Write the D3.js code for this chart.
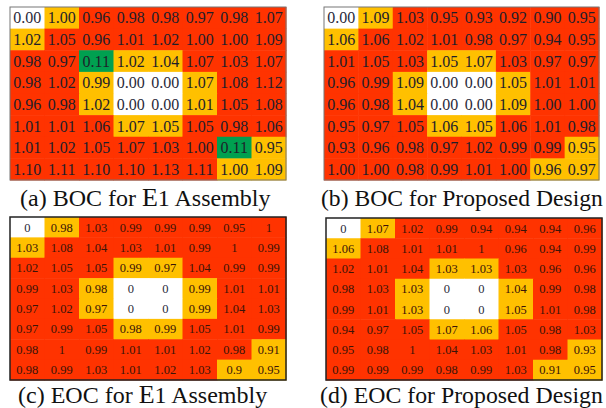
<!DOCTYPE html>
<html>
<head>
<meta charset="utf-8">
<script src="https://cdn.jsdelivr.net/npm/d3@7"></script>
<style>
  html, body { margin: 0; padding: 0; background: #fff; font-family: "Liberation Serif", serif; }
  svg { display: block; }
</style>
</head>
<body>
<svg id="chart" width="606" height="408"></svg>
<script>
// Normalised assembly power per core position (8x8 quarter core)
const bocE1 = [
  [0.00, 1.00, 0.96, 0.98, 0.98, 0.97, 0.98, 1.07],
  [1.02, 1.05, 0.96, 1.01, 1.02, 1.00, 1.00, 1.09],
  [0.98, 0.97, 0.11, 1.02, 1.04, 1.07, 1.03, 1.07],
  [0.98, 1.02, 0.99, 0.00, 0.00, 1.07, 1.08, 1.12],
  [0.96, 0.98, 1.02, 0.00, 0.00, 1.01, 1.05, 1.08],
  [1.01, 1.01, 1.06, 1.07, 1.05, 1.05, 0.98, 1.06],
  [1.01, 1.02, 1.05, 1.07, 1.03, 1.00, 0.11, 0.95],
  [1.10, 1.11, 1.10, 1.10, 1.13, 1.11, 1.00, 1.09]
];
const bocProposed = [
  [0.00, 1.09, 1.03, 0.95, 0.93, 0.92, 0.90, 0.95],
  [1.06, 1.06, 1.02, 1.01, 0.98, 0.97, 0.94, 0.95],
  [1.01, 1.05, 1.03, 1.05, 1.07, 1.03, 0.97, 0.97],
  [0.96, 0.99, 1.09, 0.00, 0.00, 1.05, 1.01, 1.01],
  [0.96, 0.98, 1.04, 0.00, 0.00, 1.09, 1.00, 1.00],
  [0.95, 0.97, 1.05, 1.06, 1.05, 1.06, 1.01, 0.98],
  [0.93, 0.96, 0.98, 0.97, 1.02, 0.99, 0.99, 0.95],
  [1.00, 1.00, 0.98, 0.99, 1.01, 1.00, 0.96, 0.97]
];
const eocE1 = [
  [0, 0.98, 1.03, 0.99, 0.99, 0.99, 0.95, 1],
  [1.03, 1.08, 1.04, 1.03, 1.01, 0.99, 1, 0.99],
  [1.02, 1.05, 1.05, 0.99, 0.97, 1.04, 0.99, 0.99],
  [0.99, 1.03, 0.98, 0, 0, 0.99, 1.01, 1.01],
  [0.97, 1.02, 0.97, 0, 0, 0.99, 1.04, 1.03],
  [0.97, 0.99, 1.05, 0.98, 0.99, 1.05, 1.01, 0.99],
  [0.98, 1, 0.99, 1.01, 1.01, 1.02, 0.98, 0.91],
  [0.98, 0.99, 1.03, 1.01, 1.02, 1.03, 0.9, 0.95]
];
const eocProposed = [
  [0, 1.07, 1.02, 0.99, 0.94, 0.94, 0.94, 0.96],
  [1.06, 1.08, 1.01, 1.01, 1, 0.96, 0.94, 0.99],
  [1.02, 1.01, 1.04, 1.03, 1.03, 1.03, 0.96, 0.96],
  [0.98, 1.03, 1.03, 0, 0, 1.04, 0.99, 0.98],
  [0.99, 1.01, 1.03, 0, 0, 1.05, 1.01, 0.98],
  [0.94, 0.97, 1.05, 1.07, 1.06, 1.05, 0.98, 1.03],
  [0.95, 0.98, 1, 1.04, 1.03, 1.01, 0.98, 0.93],
  [0.99, 0.99, 0.99, 0.98, 0.99, 1.03, 0.91, 0.95]
];

// Cell class per position: W = water hole, G = gold class, R = standard, N = low-power outlier
const classesBocE1 = ["WGRRRRRR", "GRRRRRRR", "RRNGGRRR", "RRGWWGRR", "RRGWWGRR", "RRRGGRRR", "RRRRRRNG", "RRRRRRGG"];
const classesDefault = ["WGRRRRRR", "GRRRRRRR", "RRRGGRRR", "RRGWWGRR", "RRGWWGRR", "RRRGGRRR", "RRRRRRRG", "RRRRRRGG"];

const classKeys = ["W", "G", "R", "N"];
const classColors = ["#ffffff", "#ffc000", "#ff3300", "#00a050"];

const captions = [
  ["(a) BOC for ", "E", "1 Assembly"],
  ["(b) BOC for Proposed Design", "", ""],
  ["(c) EOC for ", "E", "1 Assembly"],
  ["(d) EOC for Proposed Design", "", ""]
];

const serif = "Liberation Serif";
const color = d3.scaleOrdinal().domain(classKeys).range(classColors);
const svg = d3.select("#chart");
const idx = d3.range(8);

const panels = [
  { data: bocE1, classes: classesBocE1, box: [10, 7, 286, 180], fmt: d3.format(".2f"), fs: 16, txt: "#1e1e2a", stroke: "#777", sw: 1,
    cap: captions[0], capX: 20, capY: 206, capFs: 24 },
  { data: bocProposed, classes: classesDefault, box: [324, 7, 599, 180], fmt: d3.format(".2f"), fs: 16, txt: "#1e1e2a", stroke: "#777", sw: 1,
    cap: captions[1], capX: 321, capY: 206, capFs: 23.6 },
  { data: eocE1, classes: classesDefault, box: [10, 217, 286, 380], fmt: v => String(v), fs: 12.5, txt: "#3a1408", stroke: "#222", sw: 1.5,
    cap: captions[2], capX: 18, capY: 402.5, capFs: 24 },
  { data: eocProposed, classes: classesDefault, box: [326, 218, 602, 380], fmt: v => String(v), fs: 12.5, txt: "#3a1408", stroke: "#222", sw: 1.5,
    cap: captions[3], capX: 320, capY: 402.5, capFs: 23.8 }
];

panels.forEach(p => {
  const [x0, y0, x1, y1] = p.box;
  const x = d3.scaleBand().domain(idx).range([x0, x1]);
  const y = d3.scaleBand().domain(idx).range([y0, y1]);
  const cells = [];
  p.data.forEach((row, r) => row.forEach((v, c) => cells.push({ r, c, v, t: p.classes[r][c] })));

  const g = svg.append("g");
  g.selectAll("rect.cell")
    .data(cells)
    .join("rect")
    .attr("class", "cell")
    .attr("x", d => x(d.c))
    .attr("y", d => y(d.r))
    .attr("width", x.bandwidth() + 0.5)
    .attr("height", y.bandwidth() + 0.5)
    .attr("fill", d => color(d.t));

  g.selectAll("text.val")
    .data(cells)
    .join("text")
    .attr("class", "val")
    .attr("x", d => x(d.c) + x.bandwidth() / 2)
    .attr("y", d => y(d.r) + y.bandwidth() / 2)
    .attr("dy", "0.35em")
    .attr("text-anchor", "middle")
    .style("font-family", serif)
    .style("font-size", p.fs + "px")
    .attr("fill", d => d.t === "W" ? "#2a2a3a" : p.txt)
    .text(d => p.fmt(d.v));

  g.append("rect")
    .attr("x", x0).attr("y", y0)
    .attr("width", x1 - x0).attr("height", y1 - y0)
    .attr("fill", "none")
    .attr("stroke", p.stroke)
    .attr("stroke-width", p.sw);

  const cap = svg.append("text")
    .attr("x", p.capX).attr("y", p.capY)
    .style("font-family", serif)
    .style("font-size", p.capFs + "px")
    .attr("fill", "#111");
  cap.append("tspan").text(p.cap[0]);
  if (p.cap[1]) {
    cap.append("tspan").style("font-size", (p.capFs + 2) + "px").text(p.cap[1]);
    cap.append("tspan").text(p.cap[2]);
  }
});
</script>
</body>
</html>
